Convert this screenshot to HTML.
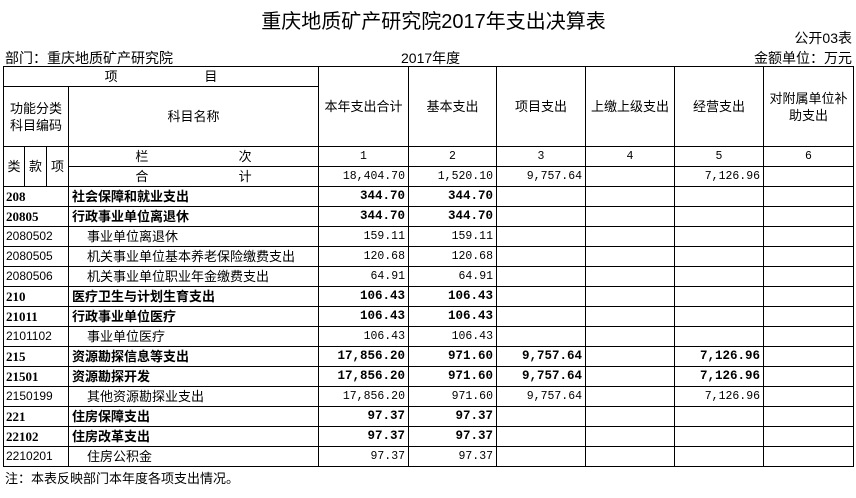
<!DOCTYPE html>
<html><head><meta charset="utf-8"><style>
body{margin:0;width:856px;height:498px;background:#fff;position:relative;overflow:hidden;font-family:"Liberation Sans","Noto Sans CJK SC",sans-serif;color:#000}
.a{position:absolute;white-space:nowrap}
table{position:absolute;left:3px;top:66px;border-collapse:collapse;table-layout:fixed;font-size:13px}
td{border:1px solid #000;padding:0 3px;height:19px;line-height:19px;overflow:hidden;white-space:nowrap}
.r{text-align:right;font-family:"Liberation Mono","Noto Sans CJK SC",monospace;font-size:11.5px}
.c{text-align:center}
td.n{text-align:center;font-family:"Liberation Mono",monospace;font-size:11.5px}
.b{font-weight:bold}
.b.r{font-size:12.5px}
.code{font-size:12px;padding-left:2px}
.b .code,.code.b{font-family:"Liberation Serif","Noto Sans CJK SC",serif;font-size:13px}
.ind{padding-left:18px}
</style></head><body>
<div class="a" style="left:0;width:856px;top:5px;text-align:center;font-size:20px;font-weight:normal;font-family:'Liberation Sans','Noto Sans CJK SC',sans-serif">&nbsp;&nbsp;重庆地质矿产研究院2017年支出决算表</div>
<div class="a" style="right:4px;top:28px;font-size:14px">公开03表</div>
<div class="a" style="left:5px;top:48px;font-size:14px">部门：重庆地质矿产研究院</div>
<div class="a" style="left:401px;top:48px;font-size:14px">2017年度</div>
<div class="a" style="right:4px;top:48px;font-size:14px">金额单位：万元</div>
<table>
<colgroup><col style="width:21px"><col style="width:22px"><col style="width:22px"><col style="width:250px"><col style="width:90px"><col style="width:88px"><col style="width:89px"><col style="width:89px"><col style="width:89px"><col style="width:90px"></colgroup>
<tr><td colspan="4" class="c">项&nbsp;&nbsp;&nbsp;&nbsp;&nbsp;&nbsp;&nbsp;&nbsp;&nbsp;&nbsp;&nbsp;&nbsp;&nbsp;&nbsp;&nbsp;&nbsp;&nbsp;&nbsp;&nbsp;&nbsp;&nbsp;&nbsp;&nbsp;&nbsp;目</td>
<td rowspan="2" class="c">本年支出合计</td><td rowspan="2" class="c">基本支出</td><td rowspan="2" class="c">项目支出</td><td rowspan="2" class="c">上缴上级支出</td><td rowspan="2" class="c">经营支出</td><td rowspan="2" class="c" style="white-space:normal;line-height:17px">对附属单位补助支出</td></tr>
<tr><td colspan="3" class="c" style="height:59px;line-height:17px;white-space:normal;padding:0">功能分类科目编码</td><td class="c">科目名称</td></tr>
<tr><td rowspan="2" class="c" style="padding:0">类</td><td rowspan="2" class="c" style="padding:0">款</td><td rowspan="2" class="c" style="padding:0">项</td><td class="c">栏&nbsp;&nbsp;&nbsp;&nbsp;&nbsp;&nbsp;&nbsp;&nbsp;&nbsp;&nbsp;&nbsp;&nbsp;&nbsp;&nbsp;&nbsp;&nbsp;&nbsp;&nbsp;&nbsp;&nbsp;&nbsp;&nbsp;&nbsp;&nbsp;&nbsp;次</td>
<td class="n">1</td><td class="n">2</td><td class="n">3</td><td class="n">4</td><td class="n">5</td><td class="n">6</td></tr>
<tr><td class="c">合&nbsp;&nbsp;&nbsp;&nbsp;&nbsp;&nbsp;&nbsp;&nbsp;&nbsp;&nbsp;&nbsp;&nbsp;&nbsp;&nbsp;&nbsp;&nbsp;&nbsp;&nbsp;&nbsp;&nbsp;&nbsp;&nbsp;&nbsp;&nbsp;&nbsp;计</td>
<td class="r">18,404.70</td><td class="r">1,520.10</td><td class="r">9,757.64</td><td></td><td class="r">7,126.96</td><td></td></tr>
<tr class="b"><td colspan="3" class="code b">208</td><td>社会保障和就业支出</td><td class="r b">344.70</td><td class="r b">344.70</td><td></td><td></td><td></td><td></td></tr>
<tr class="b"><td colspan="3" class="code b">20805</td><td>行政事业单位离退休</td><td class="r b">344.70</td><td class="r b">344.70</td><td></td><td></td><td></td><td></td></tr>
<tr><td colspan="3" class="code">2080502</td><td class="ind">事业单位离退休</td><td class="r">159.11</td><td class="r">159.11</td><td></td><td></td><td></td><td></td></tr>
<tr><td colspan="3" class="code">2080505</td><td class="ind">机关事业单位基本养老保险缴费支出</td><td class="r">120.68</td><td class="r">120.68</td><td></td><td></td><td></td><td></td></tr>
<tr><td colspan="3" class="code">2080506</td><td class="ind">机关事业单位职业年金缴费支出</td><td class="r">64.91</td><td class="r">64.91</td><td></td><td></td><td></td><td></td></tr>
<tr class="b"><td colspan="3" class="code b">210</td><td>医疗卫生与计划生育支出</td><td class="r b">106.43</td><td class="r b">106.43</td><td></td><td></td><td></td><td></td></tr>
<tr class="b"><td colspan="3" class="code b">21011</td><td>行政事业单位医疗</td><td class="r b">106.43</td><td class="r b">106.43</td><td></td><td></td><td></td><td></td></tr>
<tr><td colspan="3" class="code">2101102</td><td class="ind">事业单位医疗</td><td class="r">106.43</td><td class="r">106.43</td><td></td><td></td><td></td><td></td></tr>
<tr class="b"><td colspan="3" class="code b">215</td><td>资源勘探信息等支出</td><td class="r b">17,856.20</td><td class="r b">971.60</td><td class="r b">9,757.64</td><td></td><td class="r b">7,126.96</td><td></td></tr>
<tr class="b"><td colspan="3" class="code b">21501</td><td>资源勘探开发</td><td class="r b">17,856.20</td><td class="r b">971.60</td><td class="r b">9,757.64</td><td></td><td class="r b">7,126.96</td><td></td></tr>
<tr><td colspan="3" class="code">2150199</td><td class="ind">其他资源勘探业支出</td><td class="r">17,856.20</td><td class="r">971.60</td><td class="r">9,757.64</td><td></td><td class="r">7,126.96</td><td></td></tr>
<tr class="b"><td colspan="3" class="code b">221</td><td>住房保障支出</td><td class="r b">97.37</td><td class="r b">97.37</td><td></td><td></td><td></td><td></td></tr>
<tr class="b"><td colspan="3" class="code b">22102</td><td>住房改革支出</td><td class="r b">97.37</td><td class="r b">97.37</td><td></td><td></td><td></td><td></td></tr>
<tr><td colspan="3" class="code">2210201</td><td class="ind">住房公积金</td><td class="r">97.37</td><td class="r">97.37</td><td></td><td></td><td></td><td></td></tr>
</table>
<div class="a" style="left:5px;top:468px;font-size:13px">注：本表反映部门本年度各项支出情况。</div>
</body></html>
